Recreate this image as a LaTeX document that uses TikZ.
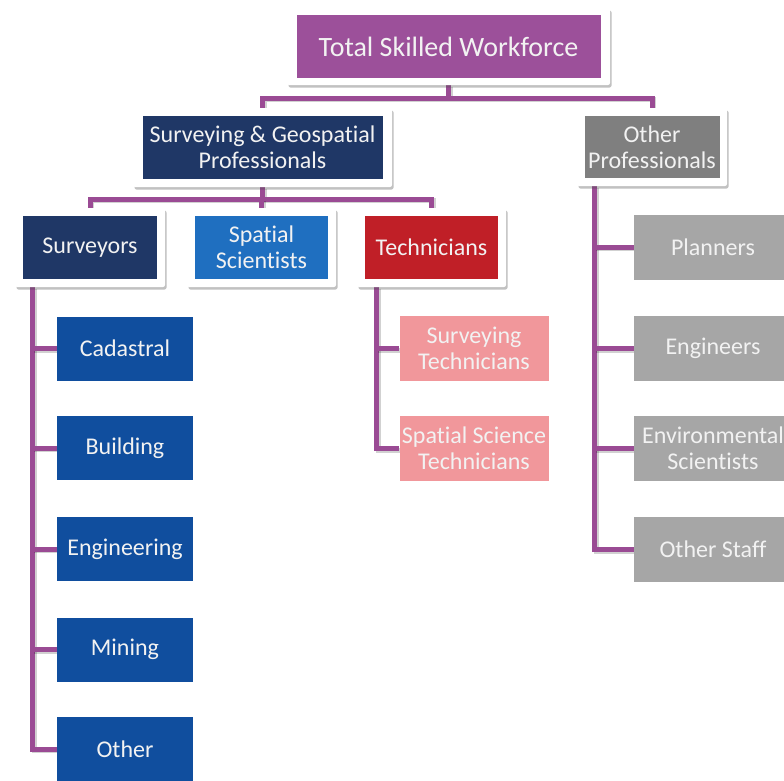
\documentclass[tikz,border=0pt]{standalone}
\usepackage{fontspec}
\setmainfont{Carlito}[Ligatures={NoCommon,NoDiscretionary}]
\usetikzlibrary{shadows,calc,backgrounds}
\definecolor{topc}{HTML}{9C509A}
\definecolor{linec}{HTML}{9A4B94}
\definecolor{navy}{HTML}{1F3766}
\definecolor{midblue}{HTML}{1F6FC0}
\definecolor{techred}{HTML}{C01F27}
\definecolor{childblue}{HTML}{104E9E}
\definecolor{pinkc}{HTML}{F1979B}
\definecolor{darkgray}{HTML}{7F7F7F}
\definecolor{lightgray}{HTML}{A6A6A6}
\definecolor{txt}{HTML}{F2F2F2}
\begin{document}
\begin{tikzpicture}[x=1pt,y=-1pt,
  frame/.style={fill=white, draw=none, rounded corners=2pt, inner sep=0pt,
    drop shadow={shadow xshift=1.5pt, shadow yshift=-2.5pt, opacity=0.35, fill=black!70}},
  inbox/.style={fill=#1, text=txt, inner sep=0pt, align=center,
    font=\fontsize{24}{26}\selectfont},
  conn/.style={draw=linec, line width=5pt,
    preaction={draw=black, opacity=0.18, line width=5pt,
      transform canvas={xshift=1.5pt, yshift=-1.5pt}}}]
\useasboundingbox (0,0) rectangle (784,780);

% level 0
\node[frame, minimum width=323pt, minimum height=77pt] (top) at (448.5,46.5) {};
\node[inbox=topc, minimum width=304pt, minimum height=63pt,
  font=\fontsize{28}{30}\selectfont] (topi) at (top) {Total Skilled Workforce};

% level 1
\node[frame, minimum width=259pt, minimum height=79pt] (sg) at (262.5,147.5) {};
\node[inbox=navy, minimum width=240pt, minimum height=63pt] (sgi) at (sg)
  {Surveying \& Geospatial\\Professionals};
\node[frame, minimum width=150pt, minimum height=78pt] (op) at (652,147) {};
\node[inbox=darkgray, minimum width=135pt, minimum height=62pt] (opi) at (op)
  {Other\\Professionals};

% level 2
\node[frame, minimum width=150pt, minimum height=79pt] (surv) at (90,247.5) {};
\node[inbox=navy, minimum width=134pt, minimum height=63pt] (survi) at (surv) {Surveyors};
\node[frame, minimum width=149pt, minimum height=79pt] (ss) at (261.5,247.5) {};
\node[inbox=midblue, minimum width=133pt, minimum height=63pt] (ssi) at (ss) {Spatial\\Scientists};
\node[frame, minimum width=149pt, minimum height=79pt] (tech) at (431.5,247.5) {};
\node[inbox=techred, minimum width=133pt, minimum height=63pt] (techi) at (tech) {Technicians};

% surveyor children
\tikzset{sch/.style={inbox=childblue, minimum width=136pt, minimum height=64pt}}
\node[sch] (s1) at (125,348.5) {Cadastral};
\node[sch] (s2) at (125,448) {Building};
\node[sch] (s3) at (125,549) {Engineering};
\node[sch] (s4) at (125,649.5) {Mining};
\node[sch] (s5) at (125,749) {Other};

% technician children
\tikzset{tch/.style={inbox=pinkc, minimum width=149pt, minimum height=65pt}}
\node[tch] (t1) at (474,348.5) {Surveying\\Technicians};
\node[tch] (t2) at (474,448.5) {Spatial Science\\Technicians};

% other professionals children
\tikzset{och/.style={inbox=lightgray, minimum width=158pt, minimum height=65pt}}
\node[och] (o1) at (713,247) {Planners};
\node[och] (o2) at (713,348.5) {Engineers};
\node[och] (o3) at (713,448.5) {Environmental\\Scientists};
\node[och] (o4) at (713,549.5) {Other Staff};

\begin{scope}[on background layer]
  \coordinate (j1) at ($(top.south)+(0,13)$);
  \draw[conn] (top.south) -- (j1);
  \draw[conn] (sg.north) |- (j1) -| (op.north);

  \coordinate (j2) at ($(sg.south)+(0,12)$);
  \draw[conn] (sg.south) -- (j2);
  \draw[conn] (surv.north) |- (j2) -| (tech.north);
  \draw[conn] (ss.north) -- (ss.north |- j2);

  \coordinate (sv) at ($(surv.south west)+(18,0)$);
  \draw[conn] (sv) |- (s5.west);
  \foreach \n in {s1,s2,s3,s4} \draw[conn] (sv |- \n.west) -- (\n.west);

  \coordinate (tv) at ($(tech.south west)+(20,0)$);
  \draw[conn] (tv) |- (t2.west);
  \draw[conn] (tv |- t1.west) -- (t1.west);

  \coordinate (ov) at ($(op.south west)+(18,0)$);
  \draw[conn] (ov) |- (o4.west);
  \foreach \n in {o1,o2,o3} \draw[conn] (ov |- \n.west) -- (\n.west);
\end{scope}
\end{tikzpicture}
\end{document}
